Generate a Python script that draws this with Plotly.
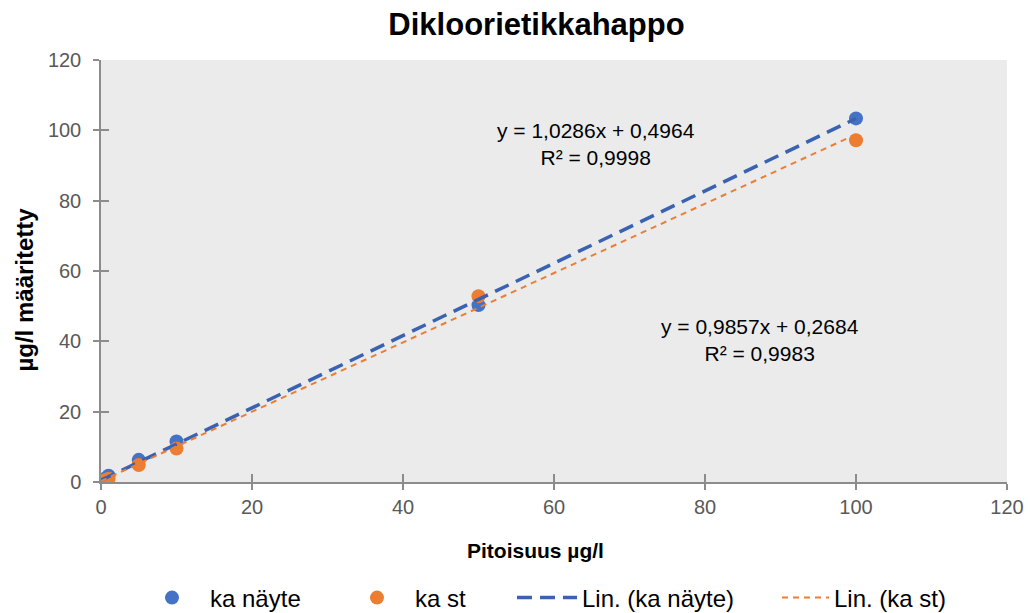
import plotly.graph_objects as go

title = "Dikloorietikkahappo"
x_title = "Pitoisuus µg/l"
y_title = "µg/l määritetty"
x_vals = [0.5, 1, 5, 10, 50, 100]
nayte = [0.9, 1.8, 6.3, 11.5, 50.3, 103.4]
st = [0.5, 0.9, 4.8, 9.5, 52.8, 97.2]
fit_nayte = (1.0286, 0.4964, 0.9998)
fit_st = (0.9857, 0.2684, 0.9983)
fit_x = [0, 100]
axis_range = [0, 120]
axis_dtick = 20

def fmt(v, d):
    return f"{v:.{d}f}".replace(".", ",")

blue = "#4472C4"
orange = "#ED7D31"
font = "Liberation Sans, Arial, sans-serif"

# page body adds an 8px offset; positions below are in figure coordinates
W, H = 1032, 613
ML, MR, MT, MB = 92.5, 33, 52, 139

def cx(page_x):
    return (page_x - 8) / W

def cy(page_y):
    return 1 - (page_y - 8) / H

def px_paper(page_x):
    return (page_x - 8 - ML) / (W - ML - MR)

def py_paper(page_y):
    return (H - MB - (page_y - 8)) / (H - MT - MB)

fig = go.Figure()
fig.add_trace(go.Scatter(x=x_vals, y=nayte, mode="markers", name="ka näyte",
                         marker=dict(color=blue, size=14), legend="legend"))
fig.add_trace(go.Scatter(x=x_vals, y=st, mode="markers", name="ka st",
                         marker=dict(color=orange, size=14), legend="legend2"))
fig.add_trace(go.Scatter(x=fit_x, y=[fit_nayte[0] * v + fit_nayte[1] for v in fit_x],
                         mode="lines", name="Lin. (ka näyte)", legend="legend3",
                         line=dict(color="#3A62B0", width=3.5, dash="15px,8px")))
fig.add_trace(go.Scatter(x=fit_x, y=[fit_st[0] * v + fit_st[1] for v in fit_x],
                         mode="lines", name="Lin. (ka st)", legend="legend4",
                         xaxis="x2", yaxis="y2",
                         line=dict(color=orange, width=2, dash="6px,5px")))

fig.add_annotation(x=65.6, y=96, xref="x", yref="y", showarrow=False,
                   text=f"y = {fmt(fit_nayte[0],4)}x + {fmt(fit_nayte[1],4)}<br>R² = {fmt(fit_nayte[2],4)}",
                   font=dict(family=font, size=21, color="#000"))
fig.add_annotation(x=87.3, y=40.4, xref="x", yref="y", showarrow=False,
                   text=f"y = {fmt(fit_st[0],4)}x + {fmt(fit_st[1],4)}<br>R² = {fmt(fit_st[2],4)}",
                   font=dict(family=font, size=21, color="#000"))

# axis titles (placed off-centre like the reference)
fig.add_annotation(x=px_paper(535), y=py_paper(550), xref="paper", yref="paper",
                   xanchor="center", yanchor="middle",
                   showarrow=False, text="<b>" + x_title + "</b>",
                   font=dict(family=font, size=21, color="#000"))
fig.add_annotation(x=px_paper(23), y=py_paper(290), xref="paper", yref="paper",
                   xanchor="center", yanchor="middle",
                   showarrow=False, textangle=-90, text="<b>" + y_title + "</b>",
                   font=dict(family=font, size=24, color="#000"))

axis_col = "#8c8c8c"
tickfont = dict(family=font, size=20, color="#595959")
axis_common = dict(range=axis_range, dtick=axis_dtick, showgrid=False, zeroline=False,
                   showline=True, linecolor=axis_col, linewidth=1.5, ticks="outside",
                   ticklen=6, tickwidth=1.5, tickcolor=axis_col, tickfont=tickfont)
overlay_common = dict(range=axis_range, dtick=axis_dtick, showgrid=False, zeroline=False,
                      showline=False, ticks="inside", ticklen=8, tickwidth=1.5,
                      tickcolor=axis_col, showticklabels=False)

leg_font = dict(family=font, size=24, color="#000")
def leg(px, iw):
    return dict(orientation="h", x=cx(px), xref="container", xanchor="left",
                y=cy(598), yref="container", yanchor="middle", font=leg_font,
                itemwidth=iw, bgcolor="rgba(0,0,0,0)", borderwidth=0)

fig.update_layout(
    width=W, height=H, showlegend=True,
    paper_bgcolor="white", plot_bgcolor="#EBEBEB",
    margin=dict(l=ML, r=MR, t=MT, b=MB),
    title=dict(text="<b>" + title + "</b>", x=cx(536.5), xref="container", xanchor="center",
               y=cy(24), yref="container", yanchor="middle",
               font=dict(family=font, size=31, color="#000")),
    xaxis=dict(ticklabelstandoff=0, **axis_common),
    yaxis=dict(ticklabelstandoff=8, **axis_common),
    xaxis2=dict(overlaying="x", anchor="y2", **overlay_common),
    yaxis2=dict(overlaying="y", anchor="x2", **overlay_common),
    legend=leg(134, 66),
    legend2=leg(339, 66),
    legend3=leg(512, 60),
    legend4=leg(777, 47),
)

fig.write_html("out.html")
